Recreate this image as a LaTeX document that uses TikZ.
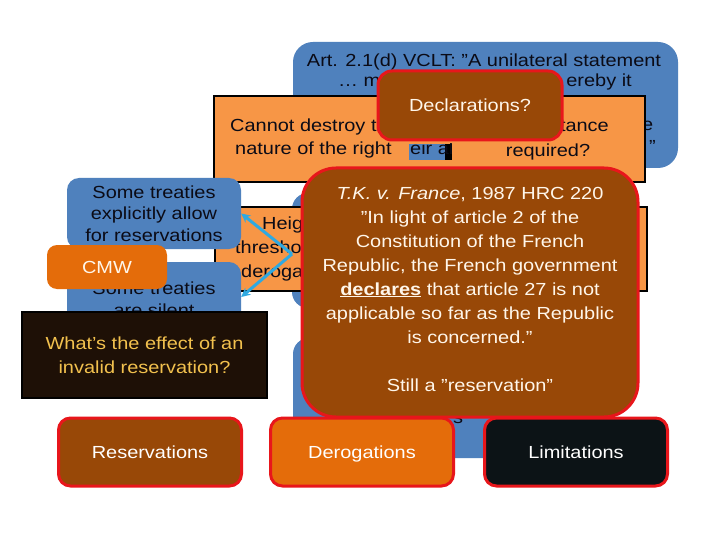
\documentclass[tikz,border=0pt]{standalone}
\usepackage{fontspec}
\setmainfont{Liberation Sans}[FakeStretch=1.14]
\usetikzlibrary{arrows.meta}
\definecolor{sblue}{HTML}{4F81BD}
\definecolor{lorange}{HTML}{F79646}
\definecolor{dorange}{HTML}{E46C0A}
\definecolor{sbrown}{HTML}{984807}
\definecolor{sred}{HTML}{E8161B}
\definecolor{sblack}{HTML}{0C1316}
\definecolor{qbox}{HTML}{1E1006}
\definecolor{qtext}{HTML}{F2C14E}
\definecolor{scyan}{HTML}{2FA9E1}
\definecolor{cream}{HTML}{FFF6EA}
\definecolor{ink}{HTML}{0B0B16}
\tikzset{
  txt/.style={inner sep=0pt, font=\fontsize{17.5}{24}\selectfont},
  blbox/.style={fill=sblue, rounded corners=16pt, inner sep=0pt},
  orbox/.style={fill=lorange, draw=black, line width=2.5pt, inner sep=0pt},
  brbox/.style={fill=sbrown, draw=sred, line width=3pt, inner sep=0pt, text=cream},
  botbox/.style={draw=sred, line width=3pt, rounded corners=12pt, inner sep=0pt,
    minimum width=183pt, minimum height=68pt, text=white, text height=14.5pt, text depth=1pt,
    font=\fontsize{17.5}{24}\selectfont},
  cyarrow/.style={draw=scyan, line width=3pt, -{Stealth[length=9pt,width=9pt]}},
}
\begin{document}
\begin{tikzpicture}[x=1pt,y=-1pt]
\useasboundingbox (0,0) rectangle (720,540);
\fill[white] (0,0) rectangle (720,540);

% top blue box (VCLT)
\node[blbox, rounded corners=20pt, minimum width=385pt, minimum height=126pt] (vclt) at (485.5,105) {};
\node[txt, text=ink] (vclta) at (484,62) {Art. 2.1(d) VCLT: ”A unilateral statement};
\node[txt, text=ink, anchor=mid west] (vcltb) at (338,84) {… m};
\node[txt, text=ink, anchor=mid east] (vcltc) at (632,84) {ereby it};
\node[txt, text=ink, anchor=mid west] (vcltd) at (642,128) {e};
\node[txt, text=ink, anchor=mid west] (vclte) at (649,150) {”};

% orange box 1
\node[orbox, minimum width=431pt, minimum height=86pt] (ess) at (429.5,139) {};
\node[txt, text=ink, anchor=mid west] (essa) at (230,129) {Cannot destroy th};
\node[txt, text=ink, anchor=mid west] (essb) at (235,152) {nature of the right};
\node[txt, text=ink, anchor=mid east] (essc) at (609,129) {tance};
\node[txt, text=ink] (essd) at (548,152) {required?};
\fill[sblue] (409,144) rectangle (445,160);
\fill[black] (445,144) rectangle (452,160);
\begin{scope}
  \clip (409,144) rectangle (452,160);
  \node[txt, text=ink, anchor=mid west] (sel) at (410,152) {eir al};
\end{scope}

% middle and lower blue boxes (behind)
\node[blbox, minimum width=308pt, minimum height=115pt] (midblue) at (446,250.5) {};
\node[blbox, minimum width=267pt, minimum height=120pt] (lowblue) at (426.5,398) {};
\node[txt, text=ink] (lowtxt) at (458,419) {s};

% orange box 2
\node[orbox, minimum width=432pt, minimum height=84pt] (thr) at (431,249) {};
\node[txt, text=ink, anchor=mid west] (thra) at (262,227) {Heig};
\node[txt, text=ink, anchor=mid west] (thrb) at (235,251) {thresho};
\node[txt, text=ink, anchor=mid west] (thrc) at (241,275) {deroga};

% left blue boxes
\node[blbox, rounded corners=12pt, minimum width=174pt, minimum height=71pt,
  text=ink, align=center, font=\fontsize{17.5}{21.5}\selectfont] (allow) at (154,213.5)
  {Some treaties\\explicitly allow\\for reservations};
\node[blbox, rounded corners=12pt, minimum width=174pt, minimum height=70pt] (silent) at (154,297) {};
\node[txt, text=ink, align=center, font=\fontsize{17.5}{22}\selectfont] (silenttxt) at (154,299) {Some treaties\\are silent};

% CMW
\node[fill=dorange, rounded corners=10pt, minimum width=120pt, minimum height=44pt,
  txt, text=cream] (cmw) at (107,267) {CMW};

% question box
\node[fill=qbox, draw=black, line width=2.5pt, minimum width=245pt, minimum height=86pt,
  txt, text=qtext, align=center] (what) at (144.5,355)
  {What’s the effect of an\\invalid reservation?};

% arrows
\coordinate (src) at (292,254);
\draw[cyarrow] (src) -- (allow.east);
\draw[cyarrow] (src) -- (silent.east);

% Declarations
\node[brbox, rounded corners=14pt, minimum width=184pt, minimum height=69pt, txt, text=cream] (decl) at (470,105.5) {Declarations?};

% T.K. v. France
\node[brbox, rounded corners=34pt, minimum width=336pt, minimum height=249pt] (tk) at (470,292.5) {};
\node[txt, text=cream, align=center] (tktxt) at (470,289)
  {\textit{T.K. v. France}, 1987 HRC 220\\
   ”In light of article 2 of the\\
   Constitution of the French\\
   Republic, the French government\\
   \underline{\textbf{declares}} that article 27 is not\\
   applicable so far as the Republic\\
   is concerned.”\\[24pt]
   Still a ”reservation”};

% bottom boxes
\node[botbox, fill=sbrown] (res) at (150,452) {Reservations};
\node[botbox, fill=dorange] (der) at (362,452) {Derogations};
\node[botbox, fill=sblack] (lim) at (576,452) {Limitations};
\end{tikzpicture}
\end{document}
